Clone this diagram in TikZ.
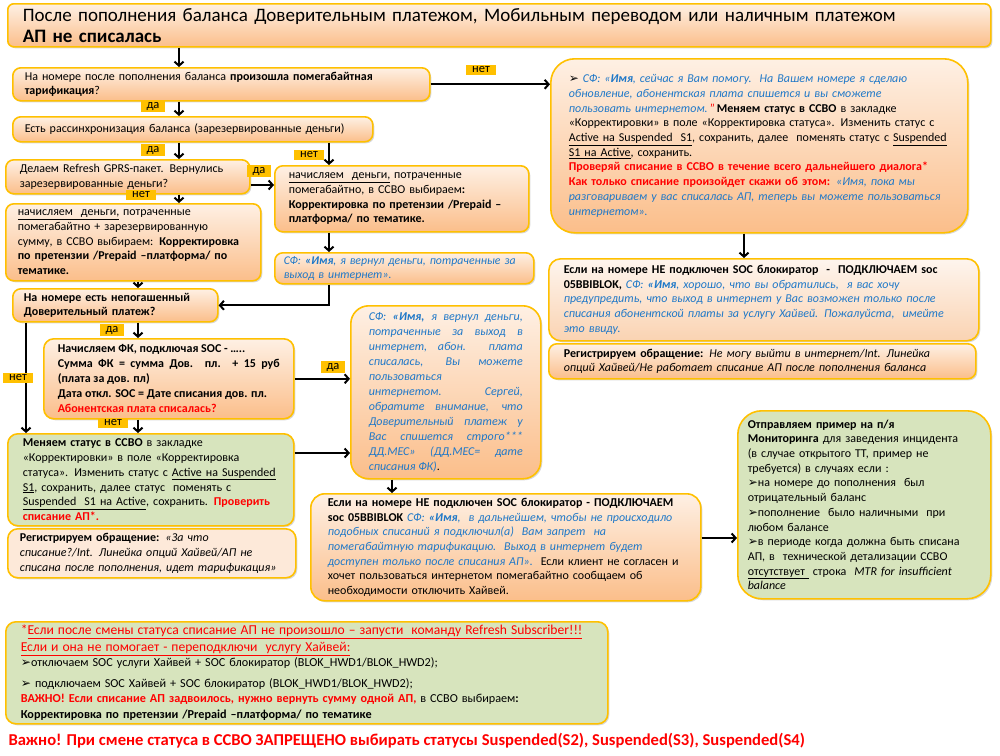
\documentclass[tikz,border=0pt]{standalone}
\usepackage{fontspec}
\setmainfont{Carlito}
\newfontfamily\arrowfont{DejaVu Sans}
\usetikzlibrary{arrows.meta,shadows}
\definecolor{boxline}{HTML}{FFC000}
\definecolor{otop}{HTML}{FEF0E4}
\definecolor{obot}{HTML}{FBBE8A}
\definecolor{ltop}{HTML}{FEF5EE}
\definecolor{lbot}{HTML}{FAD3B2}
\definecolor{grn}{HTML}{D7E4BD}
\definecolor{peach}{HTML}{FDE9D9}
\definecolor{sfblue}{HTML}{1F78C8}
\definecolor{mark}{HTML}{FFC000}
\newcommand{\sfq}[1]{{\color{sfblue}\itshape #1}}
\newcommand{\redb}[1]{{\color{red}\bfseries #1}}
\newcommand{\chev}{{\arrowfont ➢}}

\begin{document}
\begin{tikzpicture}[x=1pt, y=-1pt,
  every node/.style={font=\fontsize{12}{14.7}\selectfont},
  obox/.style={draw=boxline, line width=1.6pt, rounded corners=8pt, top color=otop, bottom color=obot,
    anchor=north west, align=left, inner xsep=12pt, inner ysep=2pt,
    drop shadow={shadow xshift=1.5pt, shadow yshift=-1.5pt, opacity=.3}},
  lbox/.style={obox, top color=ltop, bottom color=lbot},
  gbox/.style={obox, top color=grn, bottom color=grn},
  pbox/.style={obox, top color=peach, bottom color=peach},
  lbl/.style={fill=mark, inner xsep=6pt, inner ysep=1.5pt, font=\fontsize{12.5}{13}\selectfont},
  arr/.style={line width=2pt, -{Straight Barb[length=4pt,width=9pt]}}]
  \fill[white] (0,0) rectangle (1000,755);
  \useasboundingbox (0,0) rectangle (1000,755);

  % left column
  \node[obox, rounded corners=6pt, inner xsep=15pt, text width=953pt, minimum height=43pt, font=\fontsize{19}{21}\selectfont] (title) at (7,3)
    {После пополнения баланса Доверительным платежом, Мобильным переводом или наличным платежом\\ \textbf{АП не списалась}};
  \node[obox, text width=393pt, minimum height=33pt] (q1) at (12,67)
    {На номере после пополнения баланса \textbf{произошла помегабайтная}\\ \textbf{тарификация}?};
  \node[obox, text width=336pt, minimum height=25pt] (sync) at (12,116)
    {Есть рассинхронизация баланса (зарезервированные деньги)};
  \node[obox, inner xsep=14pt, text width=216pt, minimum height=34pt] (refresh) at (5,159)
    {Делаем Refresh GPRS-пакет. Вернулись\\ зарезервированные деньги?};
  \node[obox, inner xsep=14pt, text width=226pt, minimum height=66pt] (accrue) at (274,165)
    {\underline{начисляем\ \ деньги,} потраченные\\ помегабайтно, в ССВО выбираем\textbf{:}\\ \textbf{Корректировка по претензии /Prepaid –}\\ \textbf{платформа/ по тематике.}};
  \node[obox, text width=231pt, minimum height=77pt] (accrueRes) at (5,203)
    {\underline{начисляем\ \ деньги,} потраченные\\ помегабайтно + зарезервированную\\ сумму, в ССВО выбираем: \textbf{Корректировка}\\ \textbf{по претензии /Prepaid –платформа/ по}\\ \textbf{тематике.}};
  \node[obox, inner xsep=9pt, text width=241pt, minimum height=31pt, font=\fontsize{11.8}{14.5}\selectfont] (sfMoney) at (274,252)
    {\sfq{СФ: \textbf{«Имя}, я вернул деньги, потраченные за\\ выход в интернет».}};
  \node[obox, inner xsep=11pt, text width=183pt, minimum height=33pt, font=\fontsize{12}{14.7}\selectfont\bfseries] (trust) at (12,288)
    {На номере есть непогашенный\\ Доверительный платеж?};
  \node[obox, rounded corners=10pt, inner xsep=14pt, text width=222pt, minimum height=80pt, align=justify, font=\fontsize{12}{15}\selectfont\bfseries] (fk) at (43,338)
    {Начисляем ФК, подключая SOC - …..\newline Сумма ФК = сумма Дов. пл. + 15 руб \linebreak (плата за дов. пл)\newline Дата откл. SOC = Дате списания дов. пл.\newline {\color{red}Абонентская плата списалась?}};
  \node[gbox, rounded corners=10pt, inner xsep=15pt, text width=256pt, minimum height=92pt] (status) at (7,433)
    {\textbf{Меняем статус в ССВО} в закладке\\ «Корректировки» в поле «Корректировка\\ статуса». Изменить статус с \underline{Active на Suspended}\\ \underline{S1}, сохранить, далее статус\ \ поменять с\\ \underline{Suspended\ \ S1 на Active}, сохранить. \redb{Проверить}\\ \redb{списание АП*.}};
  \node[pbox, rounded corners=10pt, text width=264pt, minimum height=49pt] (regLeft) at (7,528)
    {\textbf{Регистрируем обращение:} \textit{«За что}\\ \textit{списание?/Int. Линейка опций Хайвей/АП не}\\ \textit{списана после пополнения, идет тарификация»}};

  % middle
  \node[obox, rounded corners=18pt, inner xsep=18pt, text width=154pt, minimum height=173pt, align=justify, font=\fontsize{12}{15}\selectfont] (callout) at (350,305)
    {\sfq{СФ: \textbf{«Имя,} я вернул деньги, \linebreak потраченные за выход в \linebreak интернет, абон. плата \linebreak списалась, Вы можете \linebreak пользоваться\newline интернетом. Сергей, \linebreak обратите внимание, что \linebreak Доверительный платеж у \linebreak Вас спишется строго*** \linebreak ДД.МЕС» (ДД.МЕС= дате \linebreak списания ФК)}.};
  \node[obox, rounded corners=14pt, inner xsep=17pt, text width=356pt, minimum height=107pt] (block) at (310,493)
    {\textbf{Если на номере НЕ подключен SOC блокиратор - ПОДКЛЮЧАЕМ}\\ \textbf{soc 05BBIBLOK} \sfq{СФ: \textbf{«Имя},\ \ в дальнейшем, чтобы не происходило\\ подобных списаний я подключил(а)\ \ Вам запрет\ \ на\\ помегабайтную тарификацию.\ \ Выход в интернет будет\\ доступен только после списания АП».}\ \ Если клиент не согласен и\\ хочет пользоваться интернетом помегабайтно сообщаем об\\ необходимости отключить Хайвей.};

  % right column
  \node[obox, rounded corners=24pt, inner xsep=18pt, text width=381pt, minimum height=174pt] (help) at (550,58)
    {\chev\ \sfq{СФ: «\textbf{Имя}, сейчас я Вам помогу.\ \ На Вашем номере я сделаю\\ обновление, абонентская плата спишется и вы сможете\\ пользовать интернетом.}\,{\color{red}"}\,\textbf{Меняем статус в ССВО} в закладке\\ «Корректировки» в поле «Корректировка статуса». Изменить статус с\\ \underline{Active на Suspended\ \ S1}, сохранить, далее\ \ поменять статус с \underline{Suspended}\\ \underline{S1 на Active}, сохранить.\\ \redb{Проверяй списание в ССВО в течение всего дальнейшего диалога*}\\ \redb{Как только списание произойдет скажи об этом:} \sfq{«Имя, пока мы\\ разговариваем у вас списалась АП, теперь вы можете пользоваться\\ интернетом».}};
  \node[lbox, rounded corners=12pt, inner xsep=15pt, text width=400pt, minimum height=82pt] (blockR) at (548,258)
    {\textbf{Если на номере НЕ подключен SOC блокиратор\ \ -\ \ ПОДКЛЮЧАЕМ soc}\\ \textbf{05BBIBLOK,} \sfq{СФ: \textbf{«Имя}, хорошо, что вы обратились,\ \ я вас хочу\\ предупредить, что выход в интернет у Вас возможен только после\\ списания абонентской платы за услугу Хайвей. Пожалуйста,\ \ имейте\\ это ввиду.}};
  \node[obox, inner xsep=15pt, text width=397pt, minimum height=35pt] (regRight) at (548,343)
    {\textbf{Регистрируем обращение:} \textit{Не могу выйти в интернет/Int. Линейка}\\ \textit{опций Хайвей/Не работает списание АП после пополнения баланса}};
  \node[gbox, rounded corners=24pt, inner xsep=10pt, text width=233pt, minimum height=188pt] (monitor) at (737,410)
    {\textbf{Отправляем пример на п/я}\\ \textbf{Мониторинга} для заведения инцидента\\ (в случае открытого ТТ, пример не\\ требуется) в случаях если :\\ \chev на номере до пополнения\ \ был\\ отрицательный баланс\\ \chev пополнение\ \ было наличными\ \ при\\ любом балансе\\ \chev в периоде когда должна быть списана\\ АП, в\ \ технической детализации ССВО\\ \underline{отсутствует\ }\ строка\ \ \textit{MTR for insufficient}\\ \textit{balance}};

  % bottom
  \node[gbox, rounded corners=10pt, inner xsep=15pt, text width=572pt, minimum height=102pt] (note) at (5,621)
    {{\fontsize{13.6}{16.5}\selectfont\color{red}*\underline{Если после смены статуса списание АП не произошло – запусти\ \ команду Refresh Subscriber!!!}\\ \underline{Если и она не помогает - переподключи\ \ услугу Хайвей:}\par}
     {\fontsize{12.2}{15.5}\selectfont \chev отключаем SOC услуги Хайвей + SOC блокиратор (BLOK\_HWD1/BLOK\_HWD2);\\[5pt] \chev\ подключаем SOC Хайвей + SOC блокиратор (BLOK\_HWD1/BLOK\_HWD2);\\ \redb{ВАЖНО! Если списание АП задвоилось, нужно вернуть сумму одной АП,} в ССВО выбираем\textbf{:}\\ \textbf{Корректировка по претензии /Prepaid –платформа/ по тематике}\par}};
  \node[anchor=west, text=red, font=\fontsize{16.6}{18}\selectfont\bfseries] (warn) at (5,741)
    {Важно! При смене статуса в ССВО ЗАПРЕЩЕНО выбирать статусы Suspended(S2), Suspended(S3), Suspended(S4)};

  % connectors
  \coordinate (colA) at (179,0);
  \coordinate (colB) at (138,0);
  \coordinate (colC) at (329,0);
  \coordinate (colD) at (26,0);
  \coordinate (colE) at (392,0);
  \coordinate (colF) at (744,0);
  \coordinate (rowA) at (0,185);
  \coordinate (rowB) at (0,453);
  \coordinate (rowC) at (0,538);
  \draw[arr] (title.south -| colA) -- (q1.north -| colA);
  \draw[arr] (q1.south -| colA) -- (sync.north -| colA);
  \draw[arr] (sync.south -| colA) -- (refresh.north -| colA);
  \draw[arr] (refresh.south -| colA) -- (accrueRes.north -| colA);
  \draw[arr] (sync.south -| colC) -- (accrue.north -| colC);
  \draw[arr] (accrue.south -| colC) -- (sfMoney.north -| colC);
  \draw[arr] (sfMoney.south -| colC) |- (trust.east);
  \draw[arr] (accrueRes.south -| colB) -- (trust.north -| colB);
  \draw[arr] (trust.south -| colB) -- (fk.north -| colB);
  \draw[arr] (fk.south -| colB) -- (status.north -| colB);
  \draw[arr] (trust.south -| colD) -- (status.north -| colD);
  \draw[arr] (q1.east) -- (q1.east -| help.west);
  \draw[arr] (refresh.east |- rowA) -- (accrue.west |- rowA);
  \draw[arr] (fk.east) -- (fk.east -| callout.west);
  \draw[arr] (status.east |- rowB) -- (callout.west |- rowB);
  \draw[arr] (callout.south -| colE) -- (block.north -| colE);
  \draw[arr] (block.east |- rowC) -- (monitor.west |- rowC);
  \draw[arr] (help.south -| colF) -- (blockR.north -| colF);

  % yes / no marks
  \node[lbl] (no1) at (481,70) {нет};
  \node[lbl] (yes1) at (153,106) {да};
  \node[lbl] (yes2) at (153,150) {да};
  \node[lbl] (no2) at (309,155) {нет};
  \node[lbl] (yes3) at (259,171) {да};
  \node[lbl] (no3) at (141,195) {нет};
  \node[lbl] (yes4) at (112,330) {да};
  \node[lbl] (no4) at (18,378) {нет};
  \node[lbl] (yes5) at (333,367) {да};
  \node[lbl] (no5) at (113,423) {нет};
\end{tikzpicture}
\end{document}
